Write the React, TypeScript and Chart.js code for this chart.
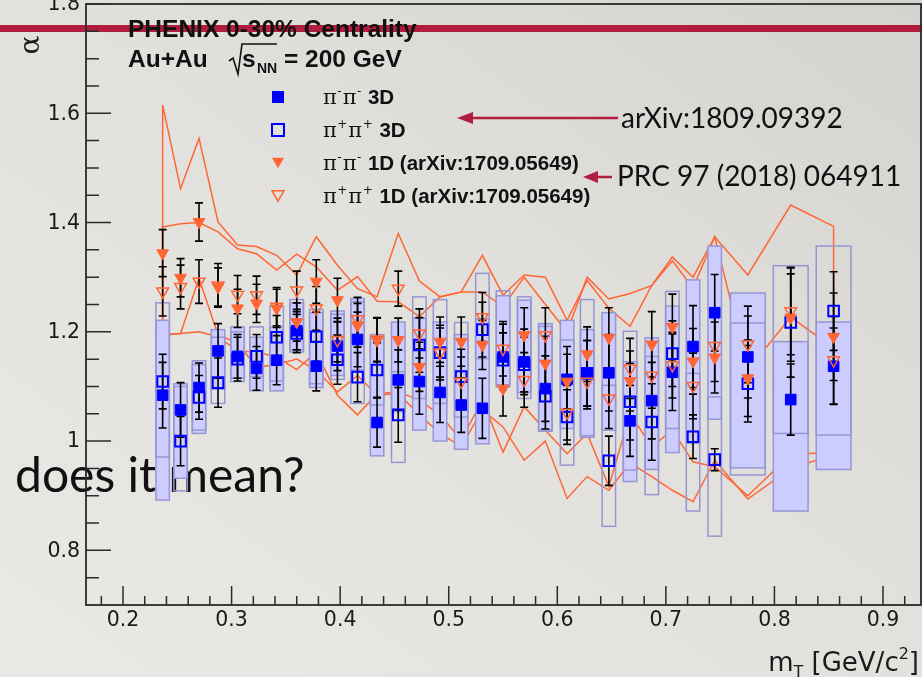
import React, { useEffect, useRef } from 'react';
import { Chart, registerables } from 'chart.js';

Chart.register(...registerables);

// ---------------- DATA ----------------
const mT = [0.2365, 0.253, 0.270, 0.2875, 0.3055, 0.323, 0.3415, 0.360, 0.378, 0.3975, 0.416, 0.434, 0.4535, 0.473, 0.492, 0.5115, 0.531, 0.550, 0.5695, 0.589, 0.609, 0.6275, 0.6475, 0.667, 0.687, 0.706, 0.725, 0.745, 0.7755, 0.815, 0.8545];
const mTHalfWidth = [0.0062, 0.0062, 0.0062, 0.0062, 0.0062, 0.0062, 0.0062, 0.0062, 0.0062, 0.0062, 0.0062, 0.0062, 0.0062, 0.0062, 0.0062, 0.0062, 0.0062, 0.0062, 0.0062, 0.0062, 0.0062, 0.0062, 0.0062, 0.0062, 0.0062, 0.0062, 0.0062, 0.0062, 0.016, 0.016, 0.016];

const alphaPiMinus3D = [1.084, 1.057, 1.098, 1.165, 1.155, 1.133, 1.148, 1.202, 1.137, 1.174, 1.186, 1.034, 1.112, 1.109, 1.089, 1.066, 1.060, 1.154, 1.145, 1.096, 1.113, 1.124, 1.125, 1.037, 1.074, 1.126, 1.173, 1.235, 1.154, 1.076, 1.137];
const statPiMinus3D = [0.06, 0.05, 0.045, 0.05, 0.04, 0.04, 0.045, 0.035, 0.045, 0.045, 0.05, 0.045, 0.055, 0.06, 0.055, 0.05, 0.055, 0.06, 0.06, 0.06, 0.06, 0.06, 0.07, 0.065, 0.07, 0.07, 0.075, 0.07, 0.075, 0.065, 0.07];
const sysHiPiMinus3D = [1.221, 1.105, 1.147, 1.204, 1.209, 1.190, 1.209, 1.253, 1.235, 1.238, 1.261, 1.190, 1.218, 1.225, 1.218, 1.195, 1.224, 1.266, 1.258, 1.215, 1.221, 1.204, 1.235, 1.145, 1.189, 1.247, 1.295, 1.357, 1.271, 1.182, 1.218];
const sysLoPiMinus3D = [0.892, 0.932, 1.014, 1.095, 1.115, 1.092, 1.092, 1.163, 1.098, 1.120, 1.130, 0.973, 1.054, 1.020, 1.000, 0.985, 0.995, 1.103, 1.089, 1.020, 1.023, 1.007, 1.020, 0.926, 0.948, 0.979, 0.996, 1.040, 0.951, 0.872, 0.948];

const alphaPiPlus3D = [1.109, 1.000, 1.080, 1.107, 1.150, 1.155, 1.190, 1.197, 1.191, 1.149, 1.117, 1.130, 1.048, 1.176, 1.162, 1.118, 1.204, 1.148, 1.140, 1.082, 1.044, 1.124, 0.964, 1.072, 1.035, 1.160, 1.008, 0.966, 1.105, 1.217, 1.238];
const statPiPlus3D = [0.05, 0.045, 0.04, 0.045, 0.04, 0.04, 0.04, 0.035, 0.045, 0.045, 0.045, 0.05, 0.05, 0.05, 0.05, 0.05, 0.05, 0.05, 0.05, 0.06, 0.05, 0.06, 0.045, 0.07, 0.07, 0.06, 0.04, 0.02, 0.07, 0.1, 0.072];
const sysHiPiPlus3D = [1.253, 1.100, 1.140, 1.190, 1.200, 1.209, 1.247, 1.259, 1.241, 1.232, 1.255, 1.195, 1.127, 1.264, 1.259, 1.217, 1.307, 1.275, 1.264, 1.210, 1.185, 1.259, 1.102, 1.201, 1.155, 1.274, 1.124, 1.081, 1.216, 1.321, 1.357];
const sysLoPiPlus3D = [0.971, 0.909, 1.020, 1.069, 1.109, 1.118, 1.110, 1.167, 1.105, 1.113, 1.069, 1.066, 0.961, 1.078, 1.069, 1.044, 1.151, 1.099, 1.078, 1.018, 0.956, 1.010, 0.844, 0.947, 0.902, 1.023, 0.872, 0.826, 0.938, 1.014, 1.011];

const alphaPiMinus1D = [1.344, 1.299, 1.401, 1.282, 1.243, 1.252, 1.243, 1.218, 1.292, 1.258, 1.212, 1.185, 1.185, 1.136, 1.182, 1.182, 1.176, 1.096, 1.194, 1.142, 1.109, 1.159, 1.189, 1.110, 1.177, 1.209, 1.146, 1.153, 1.115, 1.226, 1.191];
const statPiMinus1D = [0.043, 0.035, 0.035, 0.035, 0.035, 0.035, 0.035, 0.035, 0.04, 0.04, 0.04, 0.04, 0.04, 0.045, 0.045, 0.045, 0.045, 0.05, 0.05, 0.05, 0.05, 0.05, 0.055, 0.055, 0.06, 0.06, 0.06, 0.065, 0.07, 0.08, 0.08];
const alphaPiPlus1D = [1.274, 1.282, 1.292, 1.285, 1.268, 1.267, 1.246, 1.276, 1.243, 1.185, 1.223, 1.186, 1.279, 1.197, 1.162, 1.109, 1.227, 1.169, 1.112, 1.194, 1.052, 1.109, 1.078, 1.133, 1.120, 1.139, 1.101, 1.174, 1.177, 1.238, 1.148];
const statPiPlus1D = [0.045, 0.04, 0.04, 0.04, 0.035, 0.035, 0.035, 0.035, 0.04, 0.04, 0.04, 0.04, 0.032, 0.045, 0.045, 0.045, 0.045, 0.05, 0.05, 0.05, 0.05, 0.05, 0.055, 0.055, 0.06, 0.06, 0.06, 0.065, 0.07, 0.08, 0.08];

// 1D systematic band outlines
const bandUpperPiMinus1D = [1.615, 1.462, 1.554, 1.401, 1.359, 1.356, 1.340, 1.304, 1.374, 1.322, 1.279, 1.264, 1.380, 1.293, 1.264, 1.273, 1.340, 1.267, 1.304, 1.300, 1.221, 1.294, 1.243, 1.210, 1.285, 1.337, 1.300, 1.374, 1.304, 1.432, 1.393];
const bandLowerPiMinus1D = [1.194, 1.197, 1.200, 1.191, 1.165, 1.163, 1.154, 1.131, 1.163, 1.084, 1.048, 1.087, 1.090, 1.075, 1.048, 1.002, 1.075, 0.980, 1.063, 1.020, 0.977, 1.014, 0.917, 1.050, 0.990, 1.020, 0.962, 0.953, 0.900, 0.975, 0.980];
const bandUpperPiPlus1D = [1.392, 1.398, 1.400, 1.383, 1.352, 1.343, 1.313, 1.342, 1.319, 1.276, 1.301, 1.256, 1.255, 1.228, 1.264, 1.273, 1.273, 1.246, 1.300, 1.250, 1.200, 1.300, 1.260, 1.270, 1.285, 1.330, 1.280, 1.374, 1.130, 1.227, 1.170];
const bandLowerPiPlus1D = [1.194, 1.197, 1.298, 1.194, 1.180, 1.135, 1.140, 1.150, 1.130, 1.090, 1.120, 1.084, 1.087, 1.048, 1.014, 0.990, 1.057, 1.026, 0.965, 1.000, 0.895, 0.935, 0.910, 0.960, 0.935, 0.910, 0.889, 0.965, 0.894, 0.950, 0.975];

// axes
const xMajorTicks = [0.2, 0.3, 0.4, 0.5, 0.6, 0.7, 0.8, 0.9];
const xTickLabels = ['0.2', '0.3', '0.4', '0.5', '0.6', '0.7', '0.8', '0.9'];
const yMajorTicks = [0.8, 1.0, 1.2, 1.4, 1.6, 1.8];
const yTickLabels = ['0.8', '1', '1.2', '1.4', '1.6', '1.8'];
const X_MIN = 0.1659;
const X_MAX = 0.935;
const Y_MIN = 0.7;
const Y_MAX = 1.8;

const legendItems = [
  { kind: 'sqFilled', sign: '-', text: '3D' },
  { kind: 'sqOpen', sign: '+', text: '3D' },
  { kind: 'triFilled', sign: '-', text: '1D (arXiv:1709.05649)' },
  { kind: 'triOpen', sign: '+', text: '1D (arXiv:1709.05649)' },
];

// ---------------- STYLE ----------------
const ORANGE = 'rgb(255,102,51)';
const BLUE = '#0000ff';
const BOX_FILL = 'rgb(204,204,255)';
const BOX_LINE = 'rgb(150,150,212)';
const CRIMSON = '#b11d3d';
const SANS = '"Liberation Sans", Arial, sans-serif';

const pts = (ys: number[]) => mT.map((x, i) => ({ x, y: ys[i] }));
const bandPolygon = (up: number[], lo: number[]) => [
  ...pts(up),
  ...pts(lo).reverse(),
  { x: mT[0], y: up[0] },
];

function drawMarker(ctx: CanvasRenderingContext2D, kind: string, x: number, y: number, s: number) {
  ctx.save();
  ctx.lineWidth = 2;
  if (kind === 'sqFilled' || kind === 'sqOpen') {
    ctx.beginPath();
    ctx.rect(x - s / 2, y - s / 2, s, s);
    if (kind === 'sqFilled') { ctx.fillStyle = BLUE; ctx.fill(); }
    else { ctx.strokeStyle = BLUE; ctx.stroke(); }
  } else {
    const h = s * 0.87;
    ctx.beginPath();
    ctx.moveTo(x - s / 2, y - h / 2);
    ctx.lineTo(x + s / 2, y - h / 2);
    ctx.lineTo(x, y + h / 2);
    ctx.closePath();
    if (kind === 'triFilled') { ctx.fillStyle = ORANGE; ctx.fill(); }
    else { ctx.strokeStyle = ORANGE; ctx.lineWidth = 1.5; ctx.stroke(); }
  }
  ctx.restore();
}

const phenixPlugin = {
  id: 'phenixPlugin',
  beforeDraw(chart: any) {
    const ctx = chart.ctx as CanvasRenderingContext2D;
    ctx.save();
    // slide elements behind the plot
    ctx.fillStyle = CRIMSON;
    ctx.fillRect(0, 25, 922, 7);
    ctx.fillStyle = '#111';
    ctx.font = '48px Lato, sans-serif';
    ctx.textBaseline = 'alphabetic';
    ctx.textAlign = 'left';
    ctx.fillText('does it mean?', 15, 492);
    ctx.restore();
  },
  beforeDatasetDraw(chart: any, args: any) {
    if (args.index !== 3) return;
    const ctx = chart.ctx as CanvasRenderingContext2D;
    const xs = chart.scales.x;
    const ys = chart.scales.y;
    const a = chart.chartArea;
    ctx.save();
    ctx.beginPath();
    ctx.rect(a.left, a.top, a.right - a.left, a.bottom - a.top);
    ctx.clip();
    // filled systematic boxes (pi- pi- 3D)
    ctx.lineWidth = 1.5;
    ctx.strokeStyle = BOX_LINE;
    for (let i = 0; i < mT.length; i++) {
      const x0 = xs.getPixelForValue(mT[i] - mTHalfWidth[i]);
      const x1 = xs.getPixelForValue(mT[i] + mTHalfWidth[i]);
      const y0 = ys.getPixelForValue(sysHiPiMinus3D[i]);
      const y1 = ys.getPixelForValue(sysLoPiMinus3D[i]);
      ctx.fillStyle = BOX_FILL;
      ctx.fillRect(x0, y0, x1 - x0, y1 - y0);
      ctx.strokeRect(x0, y0, x1 - x0, y1 - y0);
    }
    // open systematic boxes (pi+ pi+ 3D)
    for (let i = 0; i < mT.length; i++) {
      const x0 = xs.getPixelForValue(mT[i] - mTHalfWidth[i]);
      const x1 = xs.getPixelForValue(mT[i] + mTHalfWidth[i]);
      const y0 = ys.getPixelForValue(sysHiPiPlus3D[i]);
      const y1 = ys.getPixelForValue(sysLoPiPlus3D[i]);
      ctx.strokeRect(x0, y0, x1 - x0, y1 - y0);
    }
    // statistical error bars
    ctx.strokeStyle = '#000';
    ctx.lineWidth = 1.6;
    const series: [number[], number[]][] = [
      [alphaPiMinus3D, statPiMinus3D],
      [alphaPiPlus3D, statPiPlus3D],
      [alphaPiMinus1D, statPiMinus1D],
      [alphaPiPlus1D, statPiPlus1D],
    ];
    for (const [vals, errs] of series) {
      for (let i = 0; i < mT.length; i++) {
        const px = xs.getPixelForValue(mT[i]);
        const yt = ys.getPixelForValue(vals[i] + errs[i]);
        const yb = ys.getPixelForValue(vals[i] - errs[i]);
        ctx.beginPath();
        ctx.moveTo(px, yt); ctx.lineTo(px, yb);
        ctx.moveTo(px - 4, yt); ctx.lineTo(px + 4, yt);
        ctx.moveTo(px - 4, yb); ctx.lineTo(px + 4, yb);
        ctx.stroke();
      }
    }
    ctx.restore();
  },
  afterDatasetsDraw(chart: any) {
    const ctx = chart.ctx as CanvasRenderingContext2D;
    const xs = chart.scales.x;
    const ys = chart.scales.y;
    const a = chart.chartArea;
    ctx.save();
    ctx.strokeStyle = '#2b2b2b';
    ctx.lineWidth = 1.8;
    ctx.strokeRect(a.left, a.top, a.right - a.left, a.bottom - a.top);
    ctx.lineWidth = 1.5;
    // y ticks (inside), minor every 0.05
    ctx.beginPath();
    for (let k = 1; k * 0.05 + Y_MIN <= Y_MAX + 1e-9; k++) {
      const v = Y_MIN + k * 0.05;
      const py = ys.getPixelForValue(v);
      const major = yMajorTicks.some((t) => Math.abs(t - v) < 1e-6);
      ctx.moveTo(a.left, py);
      ctx.lineTo(a.left + (major ? 25 : 13), py);
    }
    // x ticks (inside), minor every 0.02
    for (let k = 0; ; k++) {
      const v = 0.18 + k * 0.02;
      if (v > X_MAX) break;
      const px = xs.getPixelForValue(v);
      const major = xMajorTicks.some((t) => Math.abs(t - v) < 1e-6);
      ctx.moveTo(px, a.bottom);
      ctx.lineTo(px, a.bottom - (major ? 19 : 9));
    }
    ctx.stroke();
    // tick labels
    ctx.fillStyle = '#1a1a1a';
    ctx.font = '20.5px "DejaVu Sans", sans-serif';
    ctx.textBaseline = 'middle';
    ctx.textAlign = 'right';
    yMajorTicks.forEach((t, i) => ctx.fillText(yTickLabels[i], 80, ys.getPixelForValue(t) + 1));
    ctx.textAlign = 'center';
    xMajorTicks.forEach((t, i) => ctx.fillText(xTickLabels[i], xs.getPixelForValue(t), 621));
    // x title
    ctx.textAlign = 'left';
    ctx.textBaseline = 'alphabetic';
    const big = '26px "DejaVu Sans", sans-serif';
    const small = '16px "DejaVu Sans", sans-serif';
    ctx.font = big; const wM = ctx.measureText('m').width; const wMid = ctx.measureText(' [GeV/c').width; const wEnd = ctx.measureText(']').width;
    ctx.font = small; const wT = ctx.measureText('T').width; const w2 = ctx.measureText('2').width;
    let x = 919 - (wM + wT + wMid + w2 + wEnd);
    const base = 671;
    ctx.font = big; ctx.fillText('m', x, base); x += wM;
    ctx.font = small; ctx.fillText('T', x, base + 6); x += wT;
    ctx.font = big; ctx.fillText(' [GeV/c', x, base); x += wMid;
    ctx.font = small; ctx.fillText('2', x, base - 12); x += w2;
    ctx.font = big; ctx.fillText(']', x, base);
    // y title
    ctx.save();
    ctx.translate(32, 45);
    ctx.rotate(-Math.PI / 2);
    ctx.font = '28px "DejaVu Serif", serif';
    ctx.textAlign = 'center';
    ctx.textBaseline = 'middle';
    ctx.fillText('α', 0, 0);
    ctx.restore();
    ctx.restore();
  },
  afterDraw(chart: any) {
    const ctx = chart.ctx as CanvasRenderingContext2D;
    ctx.save();
    ctx.fillStyle = '#111';
    ctx.strokeStyle = '#111';
    ctx.textAlign = 'left';
    ctx.textBaseline = 'alphabetic';
    const bold = 'bold 24.5px ' + SANS;
    ctx.font = bold;
    ctx.fillText('PHENIX 0-30% Centrality', 128, 37);
    ctx.fillText('Au+Au', 128, 67);
    ctx.lineWidth = 1.6;
    ctx.beginPath();
    ctx.moveTo(229, 61); ctx.lineTo(233, 58); ctx.lineTo(238, 74); ctx.lineTo(242, 44); ctx.lineTo(277, 44);
    ctx.stroke();
    ctx.fillText('s', 242, 67);
    ctx.font = 'bold 14px ' + SANS;
    ctx.fillText('NN', 257, 73);
    ctx.font = bold;
    ctx.fillText('= 200 GeV', 284, 67);

    // legend
    legendItems.forEach((it, i) => {
      const y = 97 + i * 33;
      drawMarker(ctx, it.kind, 278, y, 12);
      let x = 323;
      const base = y + 7;
      for (let k = 0; k < 2; k++) {
        ctx.font = '21px "DejaVu Serif", serif';
        ctx.fillText('π', x, base);
        x += ctx.measureText('π').width + 0.5;
        ctx.font = '12px "DejaVu Sans", sans-serif';
        ctx.fillText(it.sign, x, base - 9);
        x += ctx.measureText(it.sign).width + 1;
      }
      ctx.font = 'bold 20.5px ' + SANS;
      ctx.fillText(' ' + it.text, x, base);
    });

    // slide arrows and references
    ctx.strokeStyle = CRIMSON;
    ctx.fillStyle = CRIMSON;
    ctx.lineWidth = 2.5;
    ctx.beginPath(); ctx.moveTo(618, 118); ctx.lineTo(470, 118); ctx.stroke();
    ctx.beginPath(); ctx.moveTo(457, 118); ctx.lineTo(473, 112); ctx.lineTo(473, 124); ctx.closePath(); ctx.fill();
    ctx.beginPath(); ctx.moveTo(612, 177); ctx.lineTo(595, 177); ctx.stroke();
    ctx.beginPath(); ctx.moveTo(583, 177); ctx.lineTo(598, 171); ctx.lineTo(598, 183); ctx.closePath(); ctx.fill();
    ctx.fillStyle = '#111';
    ctx.font = '28px Lato, sans-serif';
    ctx.textBaseline = 'middle';
    ctx.fillText('arXiv:1809.09392', 621, 119);
    ctx.fillText('PRC 97 (2018) 064911', 617, 177);
    ctx.restore();
  },
};

export default function App() {
  const ref = useRef<HTMLCanvasElement>(null);
  useEffect(() => {
    if (!ref.current) return;
    const chart = new Chart(ref.current, {
      type: 'scatter',
      data: {
        datasets: [
          { label: 'π⁻π⁻ 1D', data: pts(alphaPiMinus1D), pointStyle: 'triangle', rotation: 180, pointRadius: 6.8, backgroundColor: ORANGE, borderColor: ORANGE, borderWidth: 1 },
          { label: 'π⁺π⁺ 1D', data: pts(alphaPiPlus1D), pointStyle: 'triangle', rotation: 180, pointRadius: 6.8, backgroundColor: 'rgba(0,0,0,0)', borderColor: ORANGE, borderWidth: 1.5 },
          { label: 'π⁻π⁻ 3D', data: pts(alphaPiMinus3D), pointStyle: 'rect', pointRadius: 7.5, backgroundColor: BLUE, borderColor: BLUE, borderWidth: 1 },
          { label: 'π⁺π⁺ 3D', data: pts(alphaPiPlus3D), pointStyle: 'rect', pointRadius: 7.5, backgroundColor: 'rgba(0,0,0,0)', borderColor: BLUE, borderWidth: 2 },
          { label: 'band π⁻π⁻ 1D', data: bandPolygon(bandUpperPiMinus1D, bandLowerPiMinus1D), showLine: true, pointRadius: 0, borderColor: ORANGE, borderWidth: 1.5, backgroundColor: ORANGE, fill: false, tension: 0 },
          { label: 'band π⁺π⁺ 1D', data: bandPolygon(bandUpperPiPlus1D, bandLowerPiPlus1D), showLine: true, pointRadius: 0, borderColor: ORANGE, borderWidth: 1.5, backgroundColor: ORANGE, fill: false, tension: 0 },
        ] as any,
      },
      options: {
        responsive: false,
        devicePixelRatio: 1,
        animation: false,
        events: [],
        layout: { autoPadding: false, padding: { left: 86, right: 1, top: 4, bottom: 72 } },
        scales: {
          x: { type: 'linear', min: X_MIN, max: X_MAX, display: false },
          y: { type: 'linear', min: Y_MIN, max: Y_MAX, display: false },
        },
        plugins: { legend: { display: false }, tooltip: { enabled: false } },
      } as any,
      plugins: [phenixPlugin as any],
    });
    return () => chart.destroy();
  }, []);
  return (
    <div
      style={{
        position: 'fixed',
        left: 0,
        top: 0,
        width: 922,
        height: 677,
        overflow: 'hidden',
        background: 'linear-gradient(215deg, #d5d3cf 0%, #e2e0dc 45%, #ebe9e6 100%)',
      }}
    >
      <canvas ref={ref} width={922} height={677} style={{ display: 'block', width: 922, height: 677 }} />
    </div>
  );
}
